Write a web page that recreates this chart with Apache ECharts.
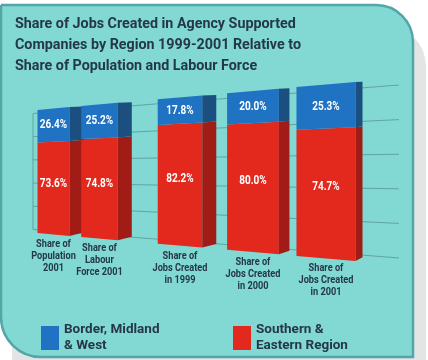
<!DOCTYPE html>
<html>
<head>
<meta charset="utf-8">
<script src="https://cdn.jsdelivr.net/npm/echarts@6/dist/echarts.min.js"></script>
<style>
  html, body { margin: 0; padding: 0; background: #fff; }
  #chart { width: 428px; height: 360px; }
</style>
</head>
<body>
<div id="chart"></div>
<script>
const categories = [
  'Share of\nPopulation\n2001',
  'Share of\nLabour\nForce 2001',
  'Share of\nJobs Created\nin 1999',
  'Share of\nJobs Created\nin 2000',
  'Share of\nJobs Created\nin 2001'
]
const bmwShare = [26.4, 25.2, 17.8, 20.0, 25.3]
const seShare = [73.6, 74.8, 82.2, 80.0, 74.7]
const valueTicks = [0, 20, 40, 60, 80, 100]

const BLUE = '#1f73c2'
const BLUE_SIDE = '#1b4f80'
const RED = '#e3291d'
const RED_SIDE = '#a11c16'
const INK = '#24384a'
const CY = 171.5

// perspective helpers (screen x -> scale)
const barScale = x => (126 + 0.176 * (x - 53.5)) / 116
const gridScale = x => 1 + (x - 33) * 0.491 / 366
const frontWidth = x => 32 + 0.0993 * (x - 53.5)
const sideDepth = x => Math.min(14, 0.0464 * (506 - x))

// groups: first two bars, then the three "jobs created" bars
const splitAt = 2
function groupData(lowFn, highFn, from, to) {
  const out = []
  for (let i = from; i < to; i++) out.push([i - from, lowFn(i), highFn(i), i])
  return out
}

// condensed look: squeeze Roboto horizontally
function narrowText(x, y, text, size, fill, vAlign, lineHeight) {
  return {
    type: 'text', x: x, y: y, scaleX: 0.8,
    style: {
      x: 0, y: 0, text: text, fill: fill,
      font: 'bold ' + size + 'px Roboto', align: 'center', verticalAlign: vAlign,
      lineHeight: lineHeight
    }
  }
}

function makeRender(sideColor, withCategory, labelPos) {
  return function (params, api) {
    const i = api.value(0), lo = api.value(1), hi = api.value(2), ci = api.value(3)
    const pLo = api.coord([i, lo])
    const pHi = api.coord([i, hi])
    const cx = pLo[0]
    const w = frontWidth(cx)
    const xL = cx - w / 2, xR = cx + w / 2
    const wy = (x, y) => CY + (y - CY) * barScale(x)
    const back = y => CY + (y - CY) * 0.98 - 2
    const d = sideDepth(xR)
    const color = api.visual('color')
    const children = [
      {
        type: 'polygon',
        shape: { points: [[xL, wy(xL, pLo[1])], [xR, wy(xR, pLo[1])], [xR, wy(xR, pHi[1])], [xL, wy(xL, pHi[1])]] },
        style: { fill: color }
      },
      {
        type: 'polygon',
        shape: { points: [[xR, wy(xR, pLo[1])], [xR + d, back(wy(xR, pLo[1]))], [xR + d, back(wy(xR, pHi[1]))], [xR, wy(xR, pHi[1])]] },
        style: { fill: sideColor }
      }
    ]
    const ly = api.coord([i, lo + (hi - lo) * labelPos])[1]
    children.push(narrowText(cx, wy(cx, ly), (hi - lo).toFixed(1) + '%', 12.5, '#fff', 'middle', 14))
    if (withCategory) {
      children.push(narrowText(cx, wy(cx, pLo[1]) + 4, categories[ci], 11.5, INK, 'top', 12))
    }
    return { type: 'group', children: children }
  }
}

function renderGridLine(params, api) {
  const v = api.value(0)
  const a = api.coord([0, v]), b = api.coord([1, v])
  const wy = (x, y) => CY + (y - CY) * gridScale(x)
  const children = [{
    type: 'line',
    shape: { x1: a[0], y1: wy(a[0], a[1]), x2: b[0], y2: wy(b[0], b[1]) },
    style: { stroke: '#5fa5a5', lineWidth: 1 }
  }]
  if (params.dataIndex === 0) {
    const t = api.coord([0, valueTicks[valueTicks.length - 1]])
    children.push({
      type: 'line',
      shape: { x1: a[0], y1: wy(a[0], a[1]), x2: t[0], y2: wy(t[0], t[1]) },
      style: { stroke: '#5fa5a5', lineWidth: 1 }
    })
  }
  return { type: 'group', children: children }
}

const seLo = () => 0
const seHi = i => seShare[i]
const bmwLo = i => seShare[i]
const bmwHi = i => seShare[i] + bmwShare[i]

const hiddenCat = (grid, n) => ({ type: 'category', gridIndex: grid, data: categories.slice(n[0], n[1]), show: false })
const hiddenVal = grid => ({ type: 'value', gridIndex: grid, min: 0, max: 100, show: false })

const legendText = { fontFamily: 'Roboto', fontWeight: 'bold', fontSize: 13.5, lineHeight: 16, color: INK }

const option = {
  animation: false,
  graphic: [
    { type: 'rect', z: -10, shape: { x: 12, y: 26, width: 414, height: 334, r: [0, 40, 0, 0] }, style: { fill: '#e3e5e5' } },
    { type: 'rect', z: -9, shape: { x: 1, y: 5, width: 412, height: 352, r: [0, 37, 0, 40] }, style: { fill: '#82d8d2', stroke: '#52a6a8', lineWidth: 2.5 } }
  ],
  title: {
    text: 'Share of Jobs Created in Agency Supported\nCompanies by Region 1999-2001 Relative to\nShare of Population and Labour Force',
    left: 15, top: 14, padding: 0,
    textStyle: { fontFamily: 'Roboto', fontWeight: 'bold', fontSize: 14.3, lineHeight: 21, color: INK }
  },
  legend: [
    {
      left: 41, top: 322, padding: 0, itemWidth: 18, itemHeight: 24, icon: 'rect',
      data: ['Border, Midland & West'],
      formatter: () => 'Border, Midland\n& West',
      textStyle: legendText
    },
    {
      left: 233, top: 322, padding: 0, itemWidth: 18, itemHeight: 24, icon: 'rect',
      data: ['Southern & Eastern Region'],
      formatter: () => 'Southern &\nEastern Region',
      textStyle: legendText
    }
  ],
  grid: [
    { left: 30.5, width: 92, top: 113.5, height: 116 },
    { left: 143.5, width: 219, top: 113.5, height: 116 },
    { left: 33, width: 366, top: 113.5, height: 116 }
  ],
  xAxis: [
    hiddenCat(0, [0, splitAt]),
    hiddenCat(1, [splitAt, categories.length]),
    { type: 'value', gridIndex: 2, min: 0, max: 1, show: false }
  ],
  yAxis: [hiddenVal(0), hiddenVal(1), hiddenVal(2)],
  series: [
    {
      type: 'custom', name: 'gridlines', xAxisIndex: 2, yAxisIndex: 2, z: 1, silent: true,
      renderItem: renderGridLine, data: valueTicks.map(v => [v])
    },
    {
      type: 'custom', name: 'Southern & Eastern Region', xAxisIndex: 0, yAxisIndex: 0, z: 2,
      itemStyle: { color: RED }, renderItem: makeRender(RED_SIDE, true, 0.55),
      data: groupData(seLo, seHi, 0, splitAt)
    },
    {
      type: 'custom', name: 'Border, Midland & West', xAxisIndex: 0, yAxisIndex: 0, z: 2,
      itemStyle: { color: BLUE }, renderItem: makeRender(BLUE_SIDE, false, 0.5),
      data: groupData(bmwLo, bmwHi, 0, splitAt)
    },
    {
      type: 'custom', name: 'Southern & Eastern Region', xAxisIndex: 1, yAxisIndex: 1, z: 2,
      itemStyle: { color: RED }, renderItem: makeRender(RED_SIDE, true, 0.55),
      data: groupData(seLo, seHi, splitAt, categories.length)
    },
    {
      type: 'custom', name: 'Border, Midland & West', xAxisIndex: 1, yAxisIndex: 1, z: 2,
      itemStyle: { color: BLUE }, renderItem: makeRender(BLUE_SIDE, false, 0.5),
      data: groupData(bmwLo, bmwHi, splitAt, categories.length)
    }
  ]
}

const myChart = echarts.init(document.getElementById('chart'), null, { renderer: 'canvas' })
myChart.setOption(option)
</script>
</body>
</html>
